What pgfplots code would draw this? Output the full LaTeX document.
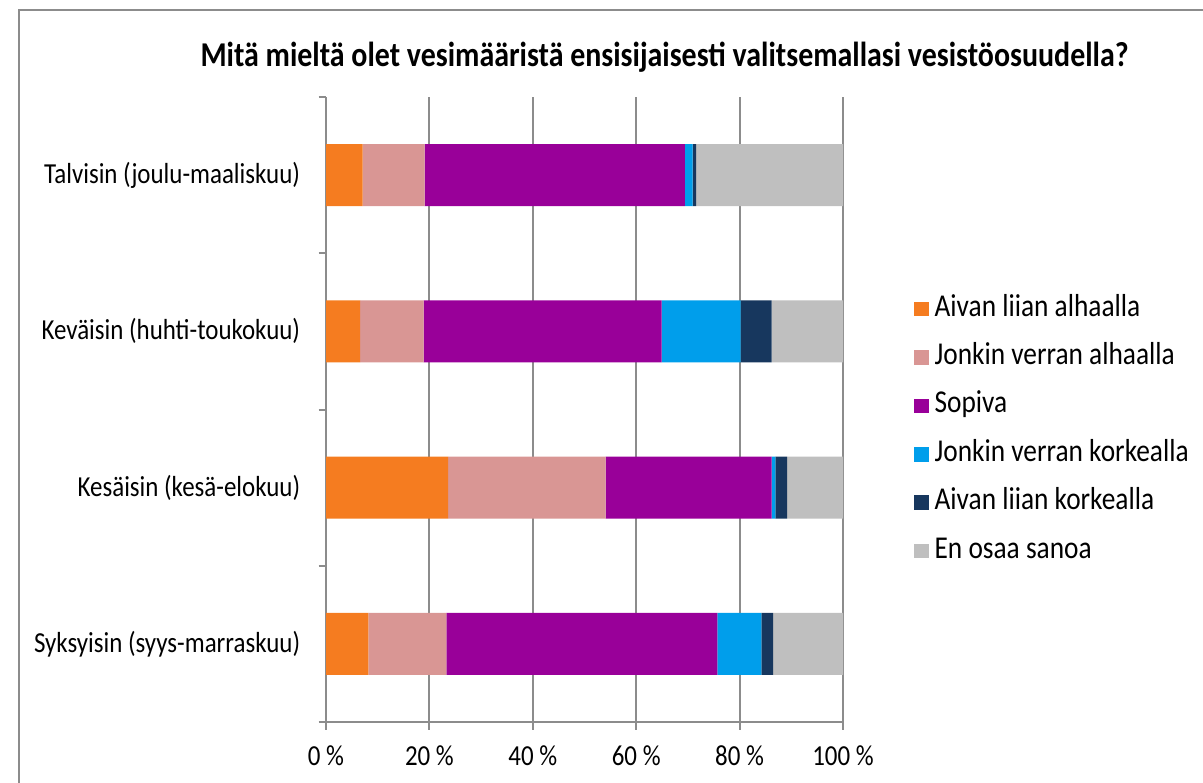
\documentclass[border=0pt]{standalone}
\usepackage{pgfplots}
\pgfplotsset{compat=1.18}
\usepackage{fontspec}
\setmainfont{Carlito}[FakeStretch=0.86]
\definecolor{orangeC}{RGB}{245,124,32}
\definecolor{pinkC}{RGB}{217,150,148}
\definecolor{purpleC}{RGB}{153,0,153}
\definecolor{blueC}{RGB}{0,158,235}
\definecolor{navyC}{RGB}{23,55,94}
\definecolor{grayC}{RGB}{191,191,191}
\definecolor{gridC}{RGB}{140,140,140}
\definecolor{frameC}{RGB}{140,140,140}
\begin{document}
\begin{tikzpicture}
\useasboundingbox (0,0) rectangle (601.5pt,-391pt);
\draw[color=frameC, line width=1.2pt] (9.5pt,-400pt) -- (9.5pt,-5pt) -- (610pt,-5pt);
\node[font=\fontsize{17.4pt}{20pt}\selectfont\bfseries] at (332.25pt,-28.5pt) {Mitä mieltä olet vesimääristä ensisijaisesti valitsemallasi vesistöosuudella?};
\begin{axis}[
  at={(163pt,-48.5pt)}, anchor=north west,
  scale only axis, width=258.5pt, height=312.5pt,
  xbar stacked, bar width=31pt,
  xmin=0, xmax=100, ymin=-0.5, ymax=3.5,
  axis x line*=bottom, axis y line*=left,
  axis line style={-, draw=gridC, line width=1pt},
  xmajorgrids, major grid style={draw=gridC, line width=1pt},
  xtick={0,20,40,60,80,100},
  xticklabels={0 \%,20 \%,40 \%,60 \%,80 \%,100 \%},
  ytick={-0.5,0.5,1.5,2.5,3.5},
  y tick label as interval,
  yticklabels={Syksyisin (syys-marraskuu),Kesäisin (kesä-elokuu),Keväisin (huhti-toukokuu),Talvisin (joulu-maaliskuu)},
  tick align=outside, major tick length=3.75pt,
  tick style={draw=gridC, line width=1pt},
  every tick label/.append style={font=\fontsize{14.5pt}{17pt}\selectfont, text=black},
  xticklabel style={inner sep=0pt, yshift=-7.75pt},
  yticklabel style={inner sep=0pt, xshift=-9pt},
  legend style={draw=none, fill=none, at={(1.1364,0.4672)}, anchor=west, inner sep=0pt,
    row sep=7.7pt, column sep=0pt,
    nodes={inner sep=1.75pt, text height=10pt, text depth=3pt, font=\fontsize{15.9pt}{18pt}\selectfont}},
  legend cell align=left,
  legend image code/.code={\fill[#1] (0pt,-3.65pt) rectangle (7.3pt,3.65pt); \path (8.6pt,0pt);},
]
\addplot[fill=orangeC, draw=none] coordinates {(8.2,0) (23.6,1) (6.6,2) (7.1,3)};
\addplot[fill=pinkC, draw=none] coordinates {(15.1,0) (30.5,1) (12.3,2) (12.0,3)};
\addplot[fill=purpleC, draw=none] coordinates {(52.4,0) (32.1,1) (46.0,2) (50.3,3)};
\addplot[fill=blueC, draw=none] coordinates {(8.5,0) (0.7,1) (15.3,2) (1.5,3)};
\addplot[fill=navyC, draw=none] coordinates {(2.3,0) (2.3,1) (6.0,2) (0.7,3)};
\addplot[fill=grayC, draw=none] coordinates {(13.5,0) (10.8,1) (13.8,2) (28.4,3)};
\legend{Aivan liian alhaalla,Jonkin verran alhaalla,Sopiva,Jonkin verran korkealla,Aivan liian korkealla,En osaa sanoa}
\end{axis}
\end{tikzpicture}
\end{document}
